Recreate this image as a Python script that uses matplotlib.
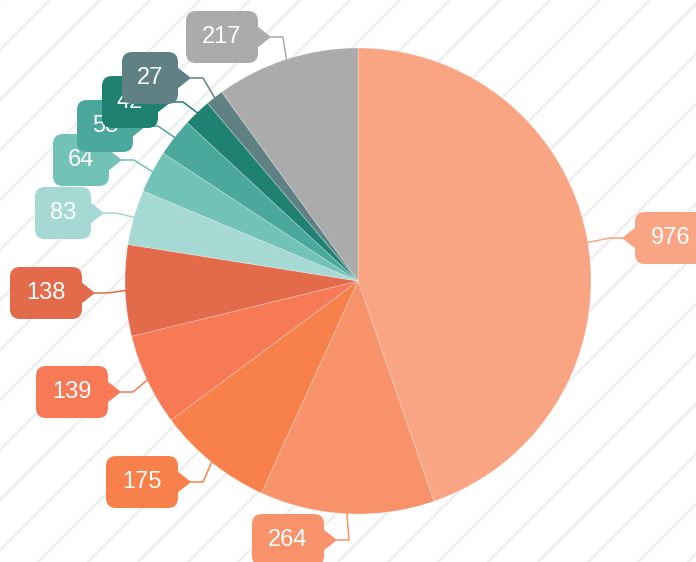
import numpy as np
import matplotlib
matplotlib.use("Agg")
import matplotlib.pyplot as plt
from matplotlib.patches import FancyBboxPatch, Polygon

# data, clockwise from 12 o'clock
values = [976, 264, 175, 139, 138, 83, 64, 58, 42, 27, 217]
labels = ["976", "264", "175", "139", "138", "83", "64", "58", "42", "27", "217"]
colors = ["#F9A584", "#F8926A", "#F8814B", "#F77956", "#E36A4B",
          "#A6D9D4", "#72C2B8", "#4BA89C", "#1F8172", "#5F8183", "#ABABAB"]

# label box centres, in pixels from the top-left corner (layout only)
label_pos = [(671, 238), (288, 540), (142, 482), (72, 392), (46, 293),
             (63, 213), (81, 160), (105, 126), (130, 102), (150, 78), (222, 37)]

W, H = 696, 562
cx, cy, R = 358, H - 281, 233

fig = plt.figure(figsize=(W / 100, H / 100), dpi=100)
ax = fig.add_axes([0, 0, 1, 1])

# diagonal stripes in the background
for x0 in np.arange(-H, W + H, 50):
    ax.plot([x0, x0 + H], [0, H], color="#EFEFEF", lw=2.0, zorder=0)

wedges, _ = ax.pie(values, colors=colors, startangle=90, counterclock=False,
                   radius=R, center=(cx, cy),
                   wedgeprops=dict(edgecolor=(1, 1, 1, 0.3), linewidth=0.6))
for w in wedges:
    w.set_zorder(2)

total = float(sum(values))
start = 0.0
for i, (v, lab, col) in enumerate(zip(values, labels, colors)):
    span = v / total * 360
    mid = np.radians(start + span / 2)
    start += span
    ex, ey = cx + R * np.sin(mid), cy + R * np.cos(mid)
    lx, ly = label_pos[i][0], H - label_pos[i][1]
    bw = 72 if len(lab) == 3 else 56
    bh = 52
    right = lx < cx  # pointer on the side facing the pie
    sgn = 1 if right else -1
    base_x = lx + sgn * (bw / 2 - 1)
    tip_x = lx + sgn * (bw / 2 + 13)
    knee_x = tip_x + sgn * 12
    # connector: short horizontal run from the pointer, then to the slice edge
    ax.plot([tip_x, knee_x, ex], [ly, ly, ey], color=col, lw=1.1,
            zorder=3 + 2 * i, solid_joinstyle="miter")
    box = FancyBboxPatch((lx - bw / 2, ly - bh / 2), bw, bh,
                         boxstyle="round,pad=0,rounding_size=10",
                         facecolor=col, edgecolor="none", zorder=4 + 2 * i)
    ax.add_patch(box)
    tri = Polygon([(base_x, ly + 11), (tip_x, ly), (base_x, ly - 11)],
                  closed=True, facecolor=col, edgecolor="none", zorder=4 + 2 * i)
    ax.add_patch(tri)
    ax.text(lx, ly, lab, ha="center", va="center", color="white",
            fontsize=17, family="Liberation Sans", zorder=5 + 2 * i)

ax.set_xlim(0, W)
ax.set_ylim(0, H)
ax.set_aspect("equal")
ax.axis("off")

fig.savefig("out.png", dpi=100, facecolor="white")
